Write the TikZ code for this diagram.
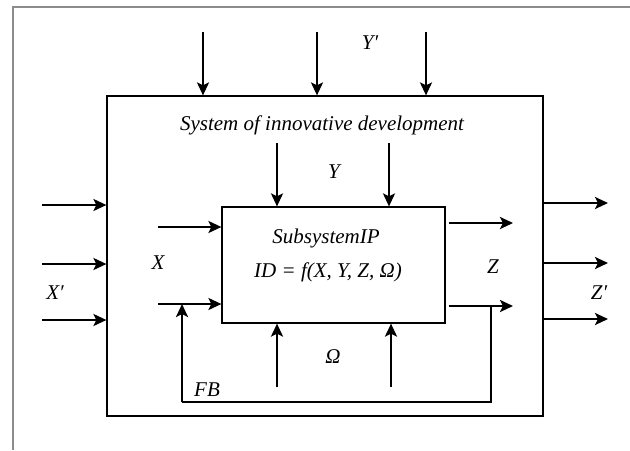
\documentclass[tikz,border=0pt]{standalone}
\usepackage{fontspec}
\setmainfont{Liberation Serif}
\usetikzlibrary{arrows.meta}

\begin{document}
\begin{tikzpicture}[x=0.5pt,y=-0.5pt,
		flow/.style={line width=1.3pt,-{Stealth[length=6.5pt,width=6pt,inset=1.5pt]}},
		box/.style={rectangle,draw,line width=0.6pt,inner sep=0pt},
		lbl/.style={font=\fontsize{10.5}{12}\selectfont\itshape,inner sep=0pt}]
		
		\useasboundingbox (0,0) rectangle (630,450);
		
		% page frame
		\draw[gray!90, line width=0.6pt] (13,450) -- (13,7) -- (630,7);
		
		% Boxes
		
		\node[box, minimum width=218pt, minimum height=160pt]
		(system) at (325,256) {};
		
		\node[box, minimum width=111.5pt, minimum height=58pt]
		(subsystem) at (333.5,265) {};
		
		% Texts
		
		\node[lbl] (sysname) at (322,125) {System of innovative development};
		\node[lbl] (subname) at (326,238) {SubsystemIP};
		\node[lbl] (subfun) at (328,272) {ID = f(X, Y, Z, Ω)};
		
		\node[lbl] (labelYp) at (370,43) {Y′};
		\node[lbl] (labelY) at (334,172) {Y};
		\node[lbl] (labelXp) at (55,293) {X′};
		\node[lbl] (labelX) at (158,263) {X};
		\node[lbl] (labelZ) at (493,267) {Z};
		\node[lbl] (labelZp) at (599,293) {Z′};
		\node[lbl] (labelOm) at (333,357) {Ω};
		\node[lbl] (labelFB) at (207,390) {FB};
		
		% Inputs from the top
		
		\foreach \x [count=\i] in {203,317,426} {
			\coordinate (ypin\i) at (\x,32);
			\draw[flow] (ypin\i) -- (ypin\i |- system.north);
		}
		
		\foreach \x [count=\i] in {277,389} {
			\coordinate (yin\i) at (\x,143);
			\draw[flow] (yin\i) -- (yin\i |- subsystem.north);
		}
		
		% Inputs from the left
		
		\foreach \y [count=\i] in {205,264,320} {
			\coordinate (xpin\i) at (42,\y);
			\draw[flow] (xpin\i) -- (xpin\i -| system.west);
		}
		
		\foreach \y [count=\i] in {227,304} {
			\coordinate (xin\i) at (158,\y);
			\draw[flow] (xin\i) -- (xin\i -| subsystem.west);
		}
		
		% Inputs from below
		
		\foreach \x [count=\i] in {277,391} {
			\coordinate (omin\i) at (\x,387);
			\draw[flow] (omin\i) -- (omin\i |- subsystem.south);
		}
		
		% Outputs
		
		\foreach \y [count=\i] in {223,306} {
			\coordinate (zout\i) at (513,\y);
			\draw[flow] ([xshift=1.5pt]zout\i -| subsystem.east) -- (zout\i);
		}
		
		\foreach \y [count=\i] in {203,263,319} {
			\coordinate (zpout\i) at (608,\y);
			\draw[flow] (zpout\i -| system.east) -- (zpout\i);
		}
		
		% Feedback
		
		\coordinate (fbtap) at (491,306);
		\coordinate (fbcorner) at (182,402);
		\draw[line width=0.6pt] (fbtap) -- (fbtap |- fbcorner) -- (fbcorner);
		\draw[flow] (fbcorner) -- (fbcorner |- xin2);
		
	\end{tikzpicture}
\end{document}
